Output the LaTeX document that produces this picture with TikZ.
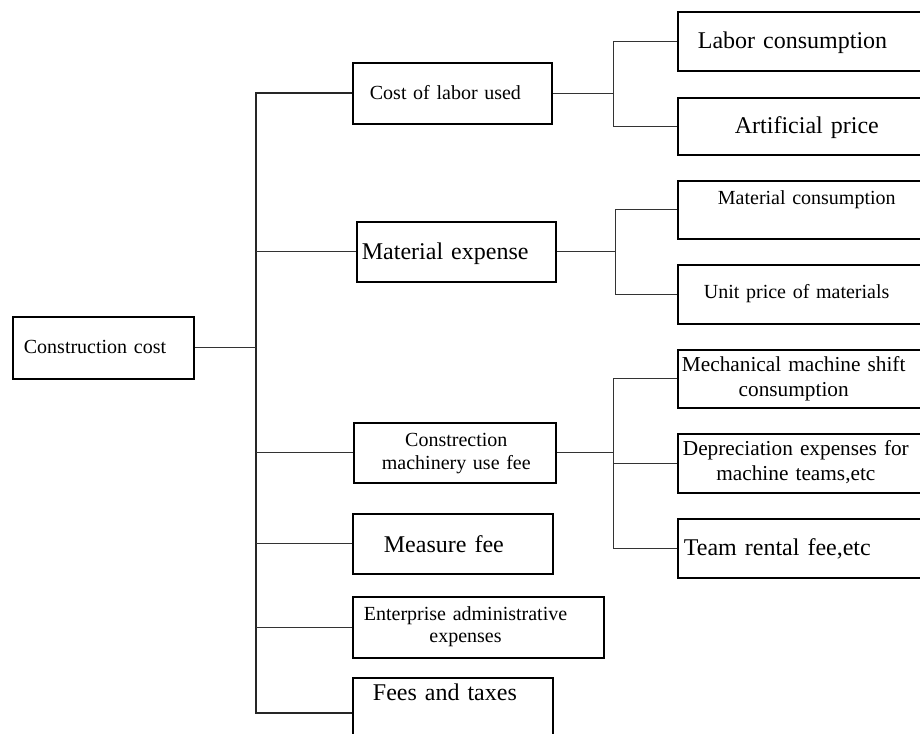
\documentclass[tikz,border=0pt]{standalone}
\usepackage{fontspec}
\setmainfont{Liberation Serif}
\usetikzlibrary{positioning}
\newcommand{\twoline}[2]{\begin{tabular}{@{}c@{}}#1\\#2\end{tabular}}

\begin{document}
\begin{tikzpicture}[x=1pt,y=-1pt,semithick]
 \tikzstyle{cost box}=[draw,line width=1.8pt,anchor=north west,inner ysep=0pt,align=left]
 \tikzstyle{small text}=[font=\fontsize{20}{23}\selectfont]
 \tikzstyle{mid text}=[font=\fontsize{21.3}{25}\selectfont]
 \tikzstyle{big text}=[font=\fontsize{24}{27}\selectfont]
 \tikzset{
 	trunk line/.style={draw=black!85,line width=1.8pt},
 	branch line/.style={draw=black!80,line width=0.9pt}
 }
 \clip (0,0) rectangle (920,733);

       \node[cost box,small text,inner xsep=11pt,text width=159pt,text height=37pt,text depth=25pt] (cc) at (12,316) {Construction cost};

       \node[cost box,small text,inner xsep=17pt,text width=165pt,text height=37pt,text depth=24pt] (lab) at (352,62) {Cost of labor used};
       \node[cost box,big text,inner xsep=5pt,text width=189pt,text height=38pt,text depth=22pt] (mat) at (356,221) {Material expense};
       \node[cost box,small text,inner xsep=28pt,text width=146pt,minimum height=60pt] (mach) at (353,422) {\twoline{Constrection}{machinery use fee}};
       \node[cost box,big text,inner xsep=31pt,text width=138pt,text height=39pt,text depth=21pt] (meas) at (352,513) {Measure fee};
       \node[cost box,font=\fontsize{20}{22}\selectfont,inner xsep=11pt,text width=229pt,minimum height=61pt] (ent) at (352,596) {\twoline{Enterprise administrative}{expenses}};
       \node[cost box,big text,inner xsep=20pt,text width=160pt,text height=23pt,text depth=47pt] (fee) at (352,677) {Fees and taxes};

       \node[cost box,big text,inner xsep=20pt,text width=223pt,text height=37pt,text depth=22pt] (labc) at (677,11) {Labor consumption};
       \node[cost box,big text,inner xsep=57pt,text width=149pt,text height=36pt,text depth=21pt] (art) at (677,97) {Artificial price};
       \node[cost box,small text,inner xsep=40pt,text width=183pt,text height=24pt,text depth=34pt] (matc) at (677,180) {Material consumption};
       \node[cost box,small text,inner xsep=26pt,text width=211pt,text height=34pt,text depth=25pt] (unit) at (677,264) {Unit price of materials};
       \node[cost box,mid text,inner xsep=4pt,text width=255pt,minimum height=58pt] (mech) at (677,349) {\twoline{Mechanical machine shift}{consumption}};
       \node[cost box,mid text,inner xsep=5pt,text width=253pt,minimum height=59pt] (dep) at (677,433) {\twoline{Depreciation expenses for}{machine teams,etc}};
       \node[cost box,big text,inner xsep=6pt,text width=251pt,text height=37pt,text depth=22pt] (team) at (677,518) {Team rental fee,etc};

       \coordinate (trunk) at (256,0);

     \draw[trunk line] (lab.west) -- (lab.west -| trunk) -- (fee.west -| trunk) -- (fee.west);
     \path[branch line] (cc.east) edge (cc.east -| trunk);
     \path[branch line] (mat.west) edge (mat.west -| trunk);
     \path[branch line] (mach.west) edge (mach.west -| trunk);
     \path[branch line] (meas.west) edge (meas.west -| trunk);
     \path[branch line] (ent.west) edge (ent.west -| trunk);

     \draw[branch line] (lab.east) -- ++(61,0) coordinate (lj);
     \draw[branch line] (labc.west) -| (lj) |- (art.west);
     \draw[branch line] (mat.east) -- ++(59,0) coordinate (mj);
     \draw[branch line] (matc.west) -| (mj) |- (unit.west);
     \draw[branch line] (mach.east) -- ++(57,0) coordinate (cj);
     \draw[branch line] (mech.west) -| (cj) |- (team.west);
     \path[branch line] (dep.west) edge (dep.west -| cj);
 \end{tikzpicture}
\end{document}
